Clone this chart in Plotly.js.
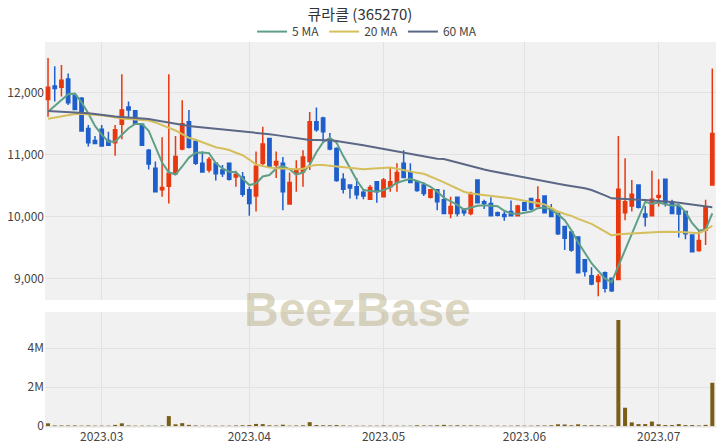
<!DOCTYPE html>
<html>
<head>
<meta charset="utf-8">
<script src="https://cdn.plot.ly/plotly-3.0.1.min.js"></script>
<style>html,body{margin:0;padding:0;background:#fff;}#chart{width:720px;height:448px;}</style>
</head>
<body>
<div id="chart"></div>
<script>
const dates = [
"2023-02-17","2023-02-20","2023-02-21","2023-02-22","2023-02-23","2023-02-24","2023-02-27","2023-02-28",
"2023-03-02","2023-03-03","2023-03-06","2023-03-07","2023-03-08","2023-03-09","2023-03-10","2023-03-13","2023-03-14","2023-03-15","2023-03-16","2023-03-17","2023-03-20","2023-03-21","2023-03-22","2023-03-23","2023-03-24","2023-03-27","2023-03-28","2023-03-29","2023-03-30","2023-03-31",
"2023-04-03","2023-04-04","2023-04-05","2023-04-06","2023-04-07","2023-04-10","2023-04-11","2023-04-12","2023-04-13","2023-04-14","2023-04-17","2023-04-18","2023-04-19","2023-04-20","2023-04-21","2023-04-24","2023-04-25","2023-04-26","2023-04-27","2023-04-28",
"2023-05-02","2023-05-03","2023-05-04","2023-05-08","2023-05-09","2023-05-10","2023-05-11","2023-05-12","2023-05-15","2023-05-16","2023-05-17","2023-05-18","2023-05-19","2023-05-22","2023-05-23","2023-05-24","2023-05-25","2023-05-26","2023-05-30","2023-05-31",
"2023-06-01","2023-06-02","2023-06-05","2023-06-07","2023-06-08","2023-06-09","2023-06-12","2023-06-13","2023-06-14","2023-06-15","2023-06-16","2023-06-19","2023-06-20","2023-06-21","2023-06-22","2023-06-23","2023-06-26","2023-06-27","2023-06-28","2023-06-29","2023-06-30",
"2023-07-03","2023-07-04","2023-07-05","2023-07-06","2023-07-07","2023-07-10","2023-07-11","2023-07-12","2023-07-13"];

const openP = [11890,12110,12090,12220,11960,11910,11420,11230,11410,11230,11190,11490,11770,11710,11490,11070,10780,10430,10490,10690,
11090,11530,11210,10860,10750,10860,10750,10860,10640,10640,10430,10330,10860,11260,10830,10860,10200,10690,10720,10890,
11530,11590,11250,11100,10600,10510,10480,10390,10280,10560,10320,10480,10550,10860,10710,10560,10510,10310,10430,10270,
10050,10310,10120,10050,10590,10240,10210,10060,10030,10080,10010,10220,10290,10160,10330,10120,10050,9840,9750,9670,
9300,9040,8950,9090,9000,8980,10060,10170,10510,10040,10010,10310,10600,10240,10160,10080,9700,9450,9780,10510];
const highP = [12560,12430,12450,12310,11990,11930,11480,11300,11480,11370,11480,12300,11860,11720,11500,11090,10890,11280,12300,11300,
11880,11720,11240,11050,10960,10870,10830,10870,10740,10720,10480,11050,11450,11260,11050,10960,10710,10910,11070,11690,
11760,11610,11350,11120,10700,10510,10620,10440,10510,10560,10620,10800,10860,11070,10860,10580,10550,10430,10430,10430,
10320,10320,10130,10400,10590,10270,10310,10080,10080,10260,10190,10240,10300,10490,10330,10200,10060,9850,9770,9680,
9310,9180,9070,9110,9010,11300,10940,10590,10510,10170,10740,10600,10600,10270,10190,10080,9710,9780,10270,12390];
const lowP = [11610,11860,11940,11800,11720,11370,11130,11180,11130,11150,10980,11250,11590,11480,11140,10760,10400,10320,10210,10680,
11070,11100,10830,10710,10710,10580,10640,10580,10480,10320,10010,10080,10830,10790,10620,10100,10190,10400,10480,10750,
11370,11190,11070,10560,10370,10290,10280,10280,10270,10220,10310,10400,10400,10620,10540,10400,10330,10290,10100,10040,
9970,10000,10010,10020,10210,10120,10010,10000,9930,10000,10000,10090,10100,10150,10050,9990,9700,9460,9430,9080,
9030,8890,8710,8770,8780,8970,9940,10080,10130,9840,10000,10160,10160,10040,9660,9630,9420,9430,9540,10500];
const closeP = [12090,12070,12200,11840,11730,11380,11190,11180,11140,11150,11400,11720,11720,11490,11150,10850,10400,10470,10700,10970,
11500,11120,10860,10720,10920,10690,10690,10600,10680,10360,10210,10810,11170,10800,10890,10400,10550,10750,10960,11530,
11400,11370,11090,10580,10440,10460,10350,10330,10470,10400,10590,10560,10710,10630,10550,10420,10370,10430,10240,10050,
10160,10050,10060,10370,10220,10210,10010,10020,10000,10010,10170,10100,10120,10270,10060,10000,9720,9650,9460,9090,
9110,8910,9030,8840,8800,10440,10240,10360,10150,9990,10280,10340,10220,10050,10040,9720,9430,9610,10150,11340];
const volume = [140000,30000,30000,30000,30000,20000,30000,20000,20000,20000,60000,140000,30000,20000,20000,20000,20000,30000,510000,90000,
150000,60000,30000,20000,20000,20000,20000,20000,30000,40000,50000,110000,100000,40000,30000,70000,20000,30000,40000,200000,
50000,40000,40000,50000,30000,20000,20000,20000,20000,20000,30000,20000,20000,20000,20000,40000,30000,30000,40000,60000,
30000,40000,30000,30000,30000,20000,20000,20000,20000,20000,30000,20000,20000,30000,30000,40000,90000,80000,40000,90000,
40000,40000,40000,30000,30000,5440000,940000,190000,100000,100000,230000,90000,50000,50000,100000,50000,50000,30000,60000,2220000];
const ma5 = [11693,11790,11880,11975,11986,11844,11668,11464,11324,11208,11212,11318,11426,11496,11496,11386,11122,10872,10714,10678,
10808,10952,11030,11034,11024,10862,10776,10724,10716,10604,10508,10532,10646,10670,10776,10814,10762,10678,10710,10838,
11038,11202,11270,11194,10976,10788,10584,10432,10410,10402,10428,10470,10546,10578,10608,10574,10536,10480,10402,10302,
10250,10186,10112,10138,10172,10182,10174,10166,10092,10050,10042,10060,10080,10134,10144,10110,10034,9940,9778,9584,
9406,9244,9120,8996,8938,9204,9470,9736,9998,10236,10204,10224,10196,10176,10186,10074,9892,9770,9790,10050];
const ma20 = [11580,11600,11625,11645,11656,11656,11652,11645,11635,11620,11600,11585,11575,11568,11560,11550,11520,11480,11430,11390,
11330,11270,11240,11200,11150,11120,11100,11074,11030,10990,10920,10840,10815,10790,10778,10770,10765,10762,10770,10815,
10830,10832,10820,10808,10790,10775,10765,10762,10770,10778,10785,10790,10770,10745,10720,10705,10690,10650,10600,10550,
10500,10450,10400,10370,10355,10345,10335,10320,10305,10293,10275,10258,10239,10220,10195,10140,10080,10040,10010,9960,
9920,9880,9820,9760,9695,9712,9720,9728,9735,9740,9745,9750,9752,9754,9750,9745,9738,9728,9780,9850];
const ma60 = [11704,11700,11697,11693,11688,11680,11670,11655,11640,11623,11615,11608,11600,11593,11586,11575,11555,11535,11515,11494,
11478,11462,11450,11440,11428,11415,11402,11390,11380,11370,11362,11352,11343,11330,11315,11300,11280,11262,11245,11236,
11236,11236,11234,11220,11205,11188,11171,11152,11132,11112,11093,11074,11056,11038,11020,11000,10978,10956,10934,10930,
10900,10870,10840,10810,10780,10758,10736,10714,10692,10670,10648,10626,10604,10583,10562,10545,10528,10510,10495,10480,
10455,10428,10390,10340,10293,10285,10280,10275,10270,10266,10260,10252,10244,10235,10223,10210,10195,10180,10165,10150];
const tickDates = ["2023-03-02","2023-04-03","2023-05-02","2023-06-02","2023-07-03"];
const tickLabels = ["2023.03","2023.04","2023.05","2023.06","2023.07"];
const priceTicks = [9000,10000,11000,12000];
const volTicks = [0,2000000,4000000];

const FONT = "'Noto Sans CJK KR', 'Noto Sans', sans-serif";
const traces = [
  {type:'candlestick', x:dates, open:openP, high:highP, low:lowP, close:closeP,
   xaxis:'x', yaxis:'y', showlegend:false, hoverinfo:'skip',
   increasing:{line:{color:'#e8380f', width:1.5}, fillcolor:'#e8380f'},
   decreasing:{line:{color:'#1f5fcc', width:1.5}, fillcolor:'#1f5fcc'}},
  {type:'scatter', mode:'lines', x:dates, y:ma5, name:'5 MA', xaxis:'x', yaxis:'y',
   line:{color:'#5e9f86', width:2}},
  {type:'scatter', mode:'lines', x:dates, y:ma20, name:'20 MA', xaxis:'x', yaxis:'y',
   line:{color:'#d5bf5c', width:2}},
  {type:'scatter', mode:'lines', x:dates, y:ma60, name:'60 MA', xaxis:'x', yaxis:'y',
   line:{color:'#5b6785', width:2}},
  {type:'bar', x:dates, y:volume, xaxis:'x2', yaxis:'y2', showlegend:false,
   marker:{color:'#7a5e16'}, width:0.6}
];

const layout = {
  width:720, height:448,
  margin:{l:45, r:4, t:42, b:20},
  paper_bgcolor:'#ffffff', plot_bgcolor:'#f1f1f1',
  font:{family:FONT, size:12, color:'#444'},
  title:{text:'큐라클 (365270)', x:0.5, xanchor:'center', y:0.968, yanchor:'middle',
         font:{family:FONT, size:15, color:'#333'}},
  showlegend:true,
  legend:{orientation:'h', x:0.48, xanchor:'center', y:1.027, yanchor:'middle',
          font:{family:FONT, size:12, color:'#444'}, bgcolor:'rgba(0,0,0,0)',
          itemwidth:30, tracegroupgap:0},
  xaxis:{type:'category', domain:[0,1], anchor:'y', range:[-0.45,99.55],
         rangeslider:{visible:false}, showticklabels:false,
         tickvals:tickDates, ticktext:tickLabels,
         showgrid:true, gridcolor:'#e2e2e2', zeroline:false, showline:false, ticks:''},
  xaxis2:{type:'category', domain:[0,1], anchor:'y2', matches:'x', range:[-0.45,99.55],
          tickvals:tickDates, ticktext:tickLabels, tickfont:{size:12, color:'#444'},
          showgrid:true, gridcolor:'#e2e2e2', zeroline:false, showline:false, ticks:''},
  yaxis:{domain:[0.3316,1], anchor:'x', range:[8650,12820], tickvals:priceTicks,
         tickformat:',d', showgrid:true, gridcolor:'#e2e2e2', zeroline:false, ticks:'',
         tickfont:{size:12, color:'#444'}},
  yaxis2:{domain:[0,0.3005], anchor:'x2', range:[-100000,5850000], tickvals:volTicks,
          tickformat:'~s', showgrid:true, gridcolor:'#e2e2e2', zeroline:false, ticks:'',
          tickfont:{size:12, color:'#444'}},
  annotations:[{text:'<b>BeezBase</b>', xref:'paper', yref:'paper', x:0.465, y:0.306,
                xanchor:'center', yanchor:'middle', showarrow:false,
                font:{family:"'Liberation Sans', Arial, sans-serif", size:48, color:'rgba(190,180,140,0.55)'}}]
};

Plotly.newPlot('chart', traces, layout, {displayModeBar:false, staticPlot:true});
</script>
</body>
</html>
